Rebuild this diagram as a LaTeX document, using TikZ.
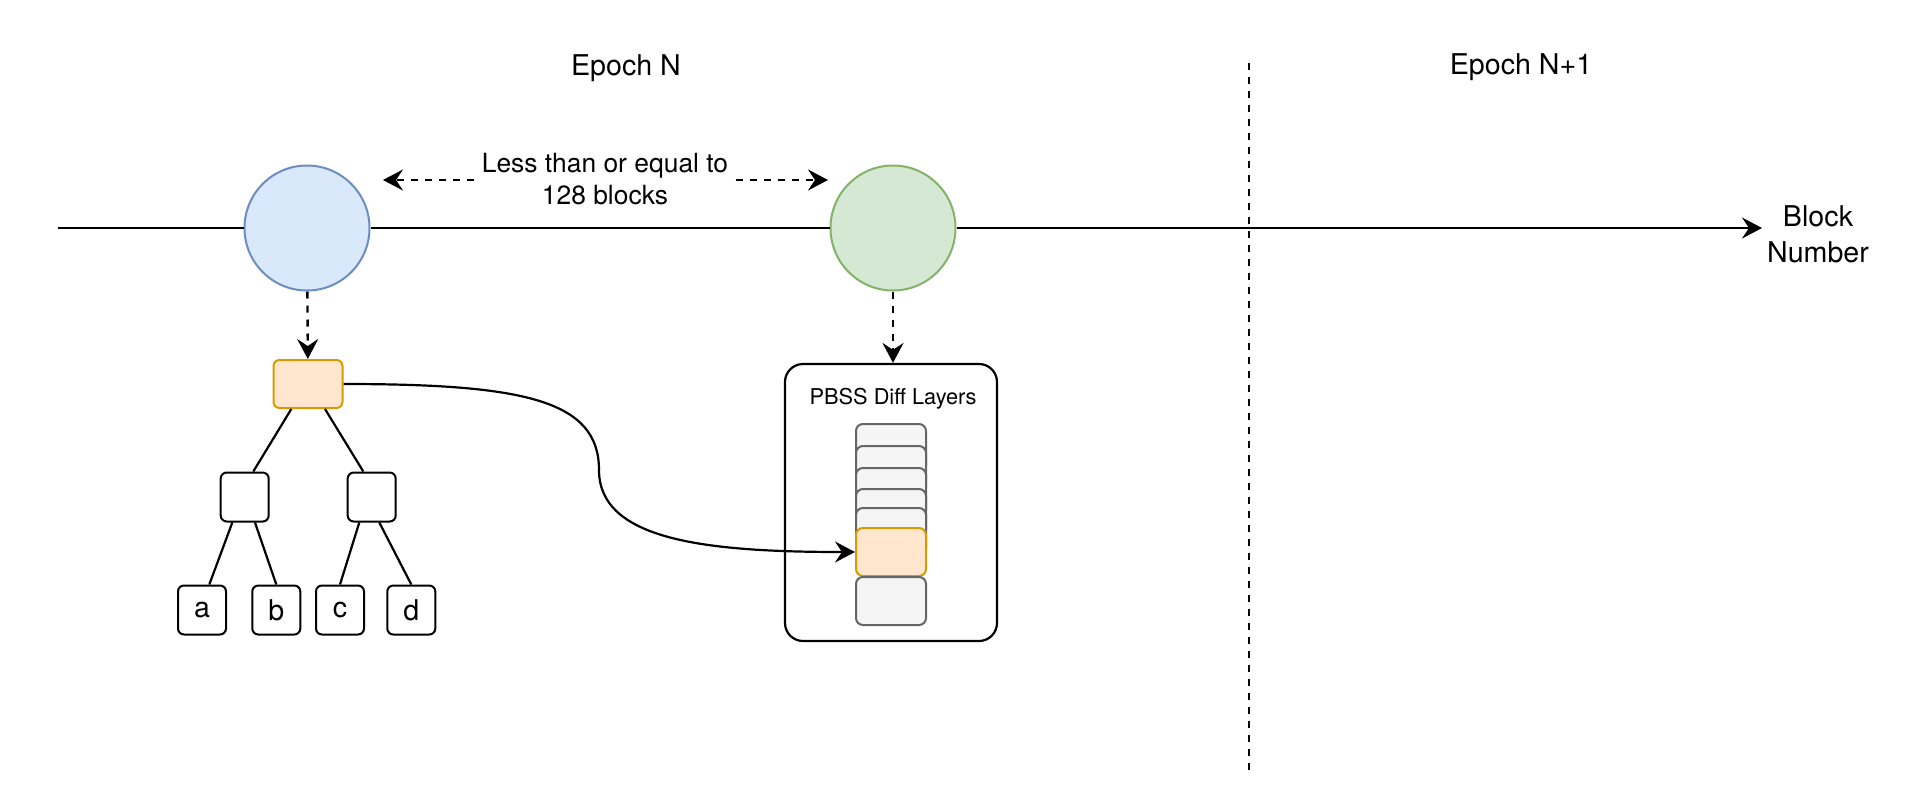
\documentclass[tikz,border=0pt]{standalone}
\usepackage{fontspec}
\setmainfont{TeX Gyre Heros}
\usepackage{xcolor}
\definecolor{blockblue}{HTML}{DAE8FC}
\definecolor{blockbluedraw}{HTML}{6C8EBF}
\definecolor{blockgreen}{HTML}{D5E8D4}
\definecolor{blockgreendraw}{HTML}{82B366}
\definecolor{rootorange}{HTML}{FFE6CC}
\definecolor{rootorangedraw}{HTML}{D79B00}
\definecolor{layergray}{HTML}{F5F5F5}
\definecolor{layergraydraw}{HTML}{666666}
\usepackage{tikz}
\usetikzlibrary{arrows.meta, positioning, calc}

\begin{document}
\begin{tikzpicture}[
        x=0.5pt, y=-0.5pt,
        font=\fontsize{13.2}{16}\selectfont,
        biglabel/.style={font=\fontsize{14.3}{18}\selectfont},
        blockcircle/.style={
            circle,
            line width=1pt,
            minimum size=62.5pt,
            inner sep=0pt
        },
        treebox/.style={
            rectangle,
            draw=black,
            line width=1pt,
            fill=white,
            minimum width=24pt,
            minimum height=24.5pt,
            rounded corners=3pt,
            inner sep=0pt,
            font=\fontsize{14.3}{16}\selectfont
        },
        rootbox/.style={
            treebox,
            draw=rootorangedraw,
            fill=rootorange,
            minimum width=34.5pt,
            minimum height=24pt
        },
        layerbox/.style={
            rectangle,
            draw=layergraydraw,
            line width=1pt,
            fill=layergray,
            minimum width=35pt,
            minimum height=24pt,
            rounded corners=3.5pt,
            inner sep=0pt
        },
        arrow/.style={-{Stealth[length=10pt,width=10.5pt,inset=3.5pt]}, line width=1.2pt},
        dasharrow/.style={arrow, dash pattern=on 3.5pt off 3.5pt},
        edge/.style={line width=1.1pt}
    ]
        \useasboundingbox (0,0) rectangle (1928,810);

        % epochs
        \node[biglabel] (epochn) at (626,68) {Epoch N};
        \node[biglabel] (epochnext) at (1521,67) {Epoch N+1};
        \coordinate (septop) at (1249,63);
        \coordinate (sepbot) at (1249,775);
        \draw[line width=1.1pt, dash pattern=on 3.5pt off 3.5pt] (septop) -- (sepbot);

        % block number axis
        \coordinate (axstart) at (58,228);
        \coordinate (axend) at (1762,228);
        \node[blockcircle, draw=blockbluedraw, fill=blockblue] (blue) at (307,228) {};
        \node[blockcircle, draw=blockgreendraw, fill=blockgreen] (green) at (893,228) {};
        \draw[edge, line width=1.2pt] (axstart) -- (blue);
        \draw[edge, line width=1.2pt] (blue) -- (green);
        \draw[arrow] (green) -- (axend);
        \node[biglabel, align=center] (axlabel) at (1818,234) {Block\\Number};

        % distance between blocks
        \node[align=center, inner xsep=3.5pt, inner ysep=0pt] (span) at (605,179) {Less than or equal to\\128 blocks};
        \coordinate (spanl) at (383,180);
        \coordinate (spanr) at (828,180);
        \draw[dasharrow] (span.west |- spanl) -- (spanl);
        \draw[dasharrow] (span.east |- spanr) -- (spanr);

        % trie
        \node[rootbox] (root) at (308,384) {};
        \node[treebox] (mid1) at (244.7,497) {};
        \node[treebox] (mid2) at (371.7,497) {};
        \node[treebox] (a) at (202,610) {a};
        \node[treebox] (b) at (276.3,610) {b};
        \node[treebox] (c) at (340,610) {c};
        \node[treebox] (d) at (411.3,610) {d};
        \draw[dasharrow] (blue) -- (root);
        \draw[edge] ($(root.south)+(-16.7,0)$) -- ($(mid1.north)+(8.6,0)$);
        \draw[edge] ($(root.south)+(17,0)$) -- ($(mid2.north)+(-8.4,0)$);
        \draw[edge] ($(mid1.south)+(-12.4,0)$) -- ($(a.north)+(7.3,0)$);
        \draw[edge] ($(mid1.south)+(10.3,0)$) -- (b.north);
        \draw[edge] ($(mid2.south)+(-12.4,0)$) -- (c.north);
        \draw[edge] ($(mid2.south)+(7.6,0)$) -- (d.north);

        % diff layers
        \node[rectangle, draw=black, line width=1.1pt, fill=white, minimum width=106pt,
              minimum height=138.5pt, rounded corners=9pt] (diff) at (891,502.5) {};
        \node[font=\fontsize{10.9}{12}\selectfont] (difftitle) at (893,399) {PBSS Diff Layers};
        \foreach \y [count=\i] in {448,470,492,513,532}
            \node[layerbox] (layer\i) at (891,\y) {};
        \node[layerbox, draw=rootorangedraw, fill=rootorange] (layer6) at (891,552) {};
        \node[layerbox] (layer7) at (891,601) {};
        \draw[dasharrow] (green) -- (green.south |- diff.north);

        % root to its diff layer
        \coordinate (bend) at (599,470);
        \draw[arrow, line width=1.1pt] (root.east) .. controls +(180,0) and +(0,-70) .. (bend)
            .. controls +(0,70) and +(-150,0) .. (layer6.west);

    \end{tikzpicture}
\end{document}
